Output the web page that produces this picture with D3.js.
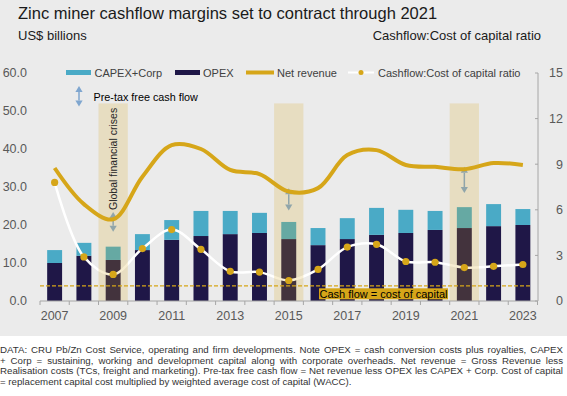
<!DOCTYPE html>
<html>
<head>
<meta charset="utf-8">
<script src="https://cdn.jsdelivr.net/npm/d3@7"></script>
<style>
  body { margin: 0; background: #fff; }
  svg text { font-family: "Liberation Sans", Arial, sans-serif; }
</style>
</head>
<body>
<div id="chart"></div>
<script>
// Data
const years = [2007, 2008, 2009, 2010, 2011, 2012, 2013, 2014, 2015, 2016, 2017, 2018, 2019, 2020, 2021, 2022, 2023];
const opex = [10.0, 11.9, 10.8, 13.4, 16.1, 17.1, 17.6, 17.9, 16.3, 14.7, 16.3, 17.4, 17.9, 18.7, 19.2, 19.7, 20.0];
const capexCorp = [3.4, 3.4, 3.5, 4.2, 5.2, 6.6, 6.1, 5.3, 4.5, 4.5, 5.5, 7.1, 6.1, 5.0, 5.5, 5.8, 4.2];
const netRevenue = [35.0, 25.5, 21.5, 32.7, 41.0, 40.0, 34.5, 33.4, 28.8, 29.7, 38.4, 39.7, 35.8, 35.3, 34.7, 36.3, 35.8];
const cashflowRatio = [7.8, 2.9, 1.75, 3.45, 4.7, 3.4, 1.95, 1.9, 1.35, 2.08, 3.55, 3.73, 2.6, 2.55, 2.2, 2.28, 2.4];
const costOfCapital = 1;

// Shaded years and free cash flow arrows
const shadeYears = [2009, 2015, 2021];
const shadeTop = 13; // on the ratio axis
const arrowYears = [2009, 2015, 2021];
const arrowTop = [23.4, 29.7, 35.3];
const arrowBottom = [18.2, 23.8, 28.4];

// Tick labels
const leftTicks = [0, 10, 20, 30, 40, 50, 60];
const rightTicks = [0, 3, 6, 9, 12, 15];
const yearLabels = [2007, 2009, 2011, 2013, 2015, 2017, 2019, 2021, 2023];

const footnote = [
  "DATA: CRU Pb/Zn Cost Service, operating and firm developments. Note OPEX = cash conversion costs plus royalties, CAPEX",
  "+ Corp = sustaining, working and development capital along with corporate overheads. Net revenue = Gross Revenue less",
  "Realisation costs (TCs, freight and marketing). Pre-tax free cash flow = Net revenue less OPEX les CAPEX + Corp. Cost of capital",
  "= replacement capital cost multiplied by weighted average cost of capital (WACC)."
];

const W = 567, H = 396;
const gold = "#d6a619", navy = "#1f1747", teal = "#4aaac6", arrowCol = "#7fa6cf";

const svg = d3.select("#chart").append("svg")
  .attr("width", W).attr("height", H);

svg.append("rect").attr("width", W).attr("height", 336).attr("fill", "#ebebeb");

// Scales
const x = d3.scaleBand().domain(years).range([40, 537.5]).padding(0);
const step = x.step();
const cx = d => x(d) + step / 2;
const yL = d3.scaleLinear().domain([0, 60]).range([301, 73]);
const yR = d3.scaleLinear().domain([0, 15]).range([301, 73]);

const barW = step * 0.51;

// Bars
const plot = svg.append("g");
plot.selectAll(".opex").data(years).enter().append("rect")
  .attr("x", (d) => cx(d) - barW / 2)
  .attr("y", (d, i) => yL(opex[i]))
  .attr("width", barW)
  .attr("height", (d, i) => yL(0) - yL(opex[i]))
  .attr("fill", navy);
plot.selectAll(".capex").data(years).enter().append("rect")
  .attr("x", (d) => cx(d) - barW / 2)
  .attr("y", (d, i) => yL(opex[i] + capexCorp[i]))
  .attr("width", barW)
  .attr("height", (d, i) => yL(opex[i]) - yL(opex[i] + capexCorp[i]))
  .attr("fill", teal);

// Ratio line (white)
const ratioLine = d3.line()
  .x((d, i) => cx(years[i]))
  .y(d => yR(d))
  .curve(d3.curveCatmullRom.alpha(0.5));
plot.append("path").datum(cashflowRatio)
  .attr("d", ratioLine)
  .attr("fill", "none").attr("stroke", "#fff").attr("stroke-width", 2.5);

// Double arrow helper
function doubleArrow(g, xPos, yTop, yBot) {
  const hw = 3.6, hh = 6;
  g.append("line").attr("x1", xPos).attr("x2", xPos)
    .attr("y1", yTop + hh).attr("y2", yBot - hh)
    .attr("stroke", arrowCol).attr("stroke-width", 1.5);
  g.append("path")
    .attr("d", `M${xPos},${yTop}L${xPos - hw},${yTop + hh}L${xPos + hw},${yTop + hh}Z`)
    .attr("fill", arrowCol);
  g.append("path")
    .attr("d", `M${xPos},${yBot}L${xPos - hw},${yBot - hh}L${xPos + hw},${yBot - hh}Z`)
    .attr("fill", arrowCol);
}
arrowYears.forEach((yr, i) => doubleArrow(plot, cx(yr), yL(arrowTop[i]), yL(arrowBottom[i])));

// Shaded periods (semi-transparent gold over everything below)
plot.selectAll(".shade").data(shadeYears).enter().append("rect")
  .attr("x", d => x(d))
  .attr("y", yR(shadeTop))
  .attr("width", step)
  .attr("height", yR(0) - yR(shadeTop))
  .attr("fill", gold).attr("fill-opacity", 0.2);

// Cost of capital line
plot.append("line")
  .attr("x1", 40).attr("x2", 532)
  .attr("y1", yR(costOfCapital)).attr("y2", yR(costOfCapital))
  .attr("stroke", gold).attr("stroke-width", 1.2)
  .attr("stroke-dasharray", "4,2");

// Net revenue line
const revLine = d3.line()
  .x((d, i) => cx(years[i]))
  .y(d => yL(d))
  .curve(d3.curveCatmullRom.alpha(0.5));
plot.append("path").datum(netRevenue)
  .attr("d", revLine)
  .attr("fill", "none").attr("stroke", gold).attr("stroke-width", 4)
  .attr("stroke-linecap", "butt");

// Ratio dots
plot.selectAll(".dot").data(cashflowRatio).enter().append("circle")
  .attr("cx", (d, i) => cx(years[i]))
  .attr("cy", d => yR(d))
  .attr("r", 3.6)
  .attr("fill", gold);

// Bottom axis
const axisCol = "#a6a6a6";
svg.append("line").attr("x1", 40).attr("x2", 537.5).attr("y1", 301).attr("y2", 301)
  .attr("stroke", axisCol).attr("stroke-width", 1);
svg.selectAll(".xtick").data(years.concat([null])).enter().append("line")
  .attr("x1", d => d === null ? 537.5 : x(d))
  .attr("x2", d => d === null ? 537.5 : x(d))
  .attr("y1", 301).attr("y2", 305)
  .attr("stroke", axisCol);
svg.selectAll(".xlab").data(yearLabels).enter().append("text")
  .attr("x", d => cx(d)).attr("y", 320)
  .attr("text-anchor", "middle")
  .attr("font-size", 12.5).attr("fill", "#595959")
  .text(d => d);

// Left axis labels (no line)
svg.selectAll(".ylab").data(leftTicks).enter().append("text")
  .attr("x", 27).attr("y", d => yL(d))
  .attr("dy", "0.35em")
  .attr("text-anchor", "end")
  .attr("font-size", 12.5).attr("fill", "#595959")
  .text(d => d3.format(".1f")(d));

// Right axis
svg.append("line").attr("x1", 538).attr("x2", 538).attr("y1", yR(15)).attr("y2", yR(0))
  .attr("stroke", axisCol);
svg.selectAll(".rtick").data(rightTicks).enter().append("line")
  .attr("x1", 535).attr("x2", 538)
  .attr("y1", d => yR(d)).attr("y2", d => yR(d))
  .attr("stroke", axisCol);
svg.selectAll(".rlab").data(rightTicks).enter().append("text")
  .attr("x", 563).attr("y", d => yR(d))
  .attr("dy", "0.35em")
  .attr("text-anchor", "end")
  .attr("font-size", 12.5).attr("fill", "#595959")
  .text(d => d);

// Annotations
svg.append("text")
  .attr("transform", `translate(${cx(2009) + 4},210) rotate(-90)`)
  .attr("font-size", 10.5).attr("fill", "#262626")
  .text("Global financial crises");

const cocY = yR(costOfCapital);
svg.append("rect").attr("x", 319).attr("y", cocY + 2.5).attr("width", 129).attr("height", 11)
  .attr("fill", gold);
svg.append("text").attr("x", 383.5).attr("y", cocY + 12)
  .attr("text-anchor", "middle").attr("font-size", 11).attr("fill", "#000")
  .text("Cash flow = cost of capital");

// Legend
const legend = svg.append("g").attr("font-size", 11).attr("fill", "#404040");
legend.append("rect").attr("x", 66).attr("y", 70).attr("width", 25).attr("height", 5).attr("fill", teal);
legend.append("text").attr("x", 94.5).attr("y", 76.5).text("CAPEX+Corp");
legend.append("rect").attr("x", 175).attr("y", 70).attr("width", 25).attr("height", 5).attr("fill", navy);
legend.append("text").attr("x", 203).attr("y", 76.5).text("OPEX");
legend.append("line").attr("x1", 246).attr("x2", 274).attr("y1", 72.5).attr("y2", 72.5)
  .attr("stroke", gold).attr("stroke-width", 4);
legend.append("text").attr("x", 277).attr("y", 76.5).text("Net revenue");
legend.append("line").attr("x1", 348).attr("x2", 374).attr("y1", 72.5).attr("y2", 72.5)
  .attr("stroke", "#fff").attr("stroke-width", 2);
legend.append("circle").attr("cx", 361).attr("cy", 72.5).attr("r", 2.5).attr("fill", gold);
legend.append("text").attr("x", 378).attr("y", 76.5).text("Cashflow:Cost of capital ratio");

doubleArrow(svg, 79, 86, 106.5);
svg.append("text").attr("x", 93.5).attr("y", 100.5)
  .attr("font-size", 10.8).attr("fill", "#000")
  .text("Pre-tax free cash flow");

// Titles
svg.append("text").attr("x", 18).attr("y", 19)
  .attr("font-size", 16.5).attr("fill", "#1a1a1a")
  .text("Zinc miner cashflow margins set to contract through 2021");
svg.append("text").attr("x", 18).attr("y", 39.5)
  .attr("font-size", 13).attr("fill", "#1a1a1a")
  .text("US$ billions");
svg.append("text").attr("x", 541).attr("y", 39.5)
  .attr("text-anchor", "end")
  .attr("font-size", 13).attr("fill", "#1a1a1a")
  .text("Cashflow:Cost of capital ratio");

// Footnote, justified
const fnW = 563;
footnote.forEach((line, i) => {
  const t = svg.append("text")
    .attr("x", 0).attr("y", 353.3 + i * 10.4)
    .attr("font-size", 9.7).attr("fill", "#333")
    .text(line);
  if (i < footnote.length - 1) {
    const len = t.node().getComputedTextLength();
    const spaces = line.split(" ").length - 1;
    t.attr("word-spacing", (fnW - len) / spaces);
  }
});
</script>
</body>
</html>
